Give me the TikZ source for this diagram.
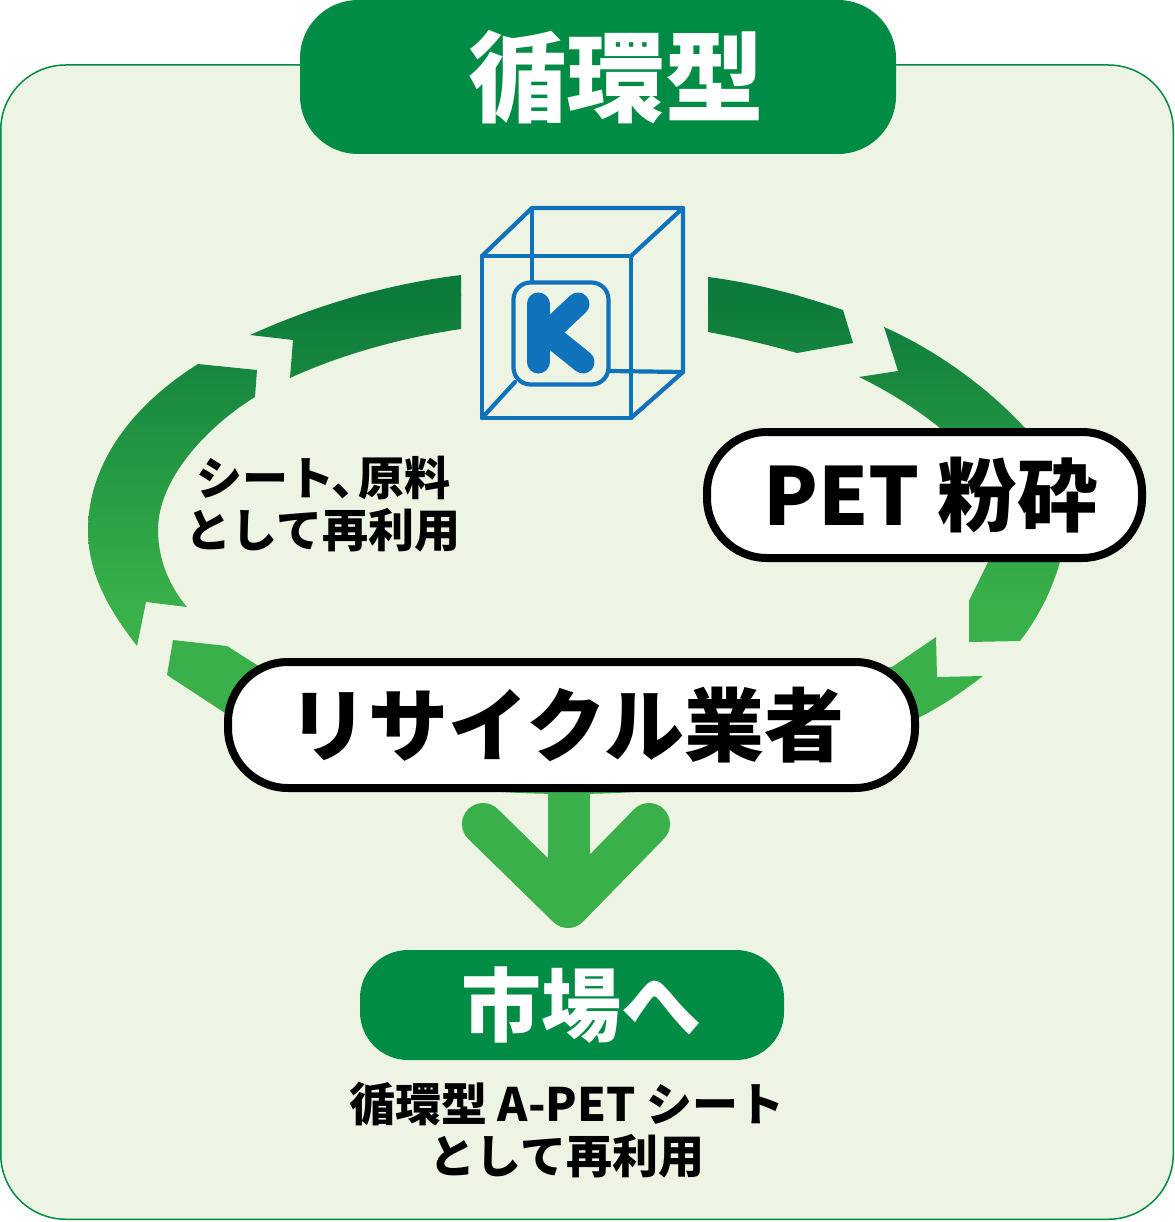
\documentclass[tikz,border=0pt]{standalone}
\usepackage{fontspec}
\setmainfont{Noto Sans CJK JP}
\definecolor{panelfill}{HTML}{EDF4E3}
\definecolor{brandgreen}{HTML}{008C45}
\definecolor{ringdark}{HTML}{0C7A3B}
\definecolor{ringlight}{HTML}{39B04A}
\definecolor{cubeblue}{HTML}{0F72BB}
\tikzset{
  pill/.style={draw=black,line width=8pt,fill=white,rounded corners=60pt,inner sep=0pt,
    minimum height=126pt,font=\bfseries\fontsize{80}{90}\selectfont},
  greenpill/.style={fill=brandgreen,text=white,inner sep=0pt,font=\bfseries\fontsize{80}{90}\selectfont},
  caption/.style={inner sep=0pt,align=center,font=\bfseries\fontsize{46}{52}\selectfont},
  cubeline/.style={draw=cubeblue,line width=4.2pt,line join=round,line cap=round},
}
\newcommand{\ringpaths}{%
  (461,275) .. controls (380,285) and (310,308) .. (250,335) -- (293,340) -- (290,378)
    .. controls (340,355) and (400,338) .. (461,329) -- cycle
  (198,364) -- (257,370) -- (255,397) .. controls (205,428) and (158,480) .. (158,530)
    .. controls (158,560) and (170,587) .. (187,607) -- (146,602) -- (137,646)
    .. controls (105,605) and (88,570) .. (88,530) .. controls (88,470) and (125,410) .. (198,364) -- cycle
  (173,640) -- (227,646) -- (257,665) -- (570,700) -- (570,794)
    .. controls (450,794) and (340,778) .. (225,713) -- (167,675) -- cycle
  (708,277) .. controls (755,283) and (800,295) .. (843,310) -- (853,343) -- (797,353)
    .. controls (765,344) and (735,337) .. (708,332) -- cycle
  (884,327) .. controls (940,352) and (990,390) .. (1025,428) -- (1030,470) -- (950,470) -- (940,428)
    .. controls (915,408) and (888,391) .. (859,377) -- (898,371) -- cycle
  (1000,520) -- (1060,520) -- (1060,562) .. controls (1052,590) and (1038,618) .. (1020,641) -- (969,642) -- (969,601)
    .. controls (975,588) and (982,575) .. (988,562) -- cycle
  (936,637) -- (937,677) -- (983,676) .. controls (962,692) and (942,706) .. (920,717)
    .. controls (800,775) and (690,794) .. (570,794) -- (570,700) -- (892,667) -- cycle
}
\begin{document}
\begin{tikzpicture}[x=1pt,y=-1pt]
\useasboundingbox (0,0) rectangle (1174,1222);
% panel
\draw[fill=panelfill,draw=brandgreen,line width=1.5pt,rounded corners=65pt] (0.75,65) rectangle (1173.25,1219.25);
% ring with a vertical gradient
\begin{scope}
  \clip \ringpaths;
  \fill[ringlight] (60,600) rectangle (1100,800);
  \shade[top color=ringdark,bottom color=ringlight,shading angle=0] (60,295) rectangle (1100,601);
  \fill[ringdark] (60,260) rectangle (1100,296);
\end{scope}
% cube logo
\coordinate (fa) at (482,256); \coordinate (fb) at (631,256);
\coordinate (fc) at (631,418); \coordinate (fd) at (482,418);
\coordinate (ba) at (532,208); \coordinate (bb) at (683,208);
\coordinate (bc) at (683,372);
\draw[cubeline] (fa) -- (fb) -- (fc) -- (fd) -- cycle;
\draw[cubeline] (fa) -- (ba) -- (bb) -- (fb);
\draw[cubeline] (bb) -- (bc) -- (fc);
\draw[cubeline] (ba) -- (532,282);
\draw[cubeline] (bc) -- (609,371);
\draw[cubeline] (fd) -- (515,382);
\draw[cubeline,fill=panelfill,rounded corners=17pt] (513.5,282.5) rectangle (608.5,384.5);
\draw[draw=cubeblue,line width=23pt,line cap=round,line join=round] (538,304) -- (538,362);
\draw[draw=cubeblue,line width=23pt,line cap=round,line join=round] (578,304) -- (547,333) -- (583,362);
% arrow to the market
\coordinate (tipl) at (483,824); \coordinate (tipr) at (649,824); \coordinate (tipb) at (568,907);
\fill[ringlight] (548,785) rectangle (590,900);
\draw[ringlight,line width=42pt,line cap=round,line join=round] (tipl) -- (tipb) -- (tipr);
% boxes
\node[pill,minimum width=435pt] (pet) at (924.5,495) {\hspace*{12pt}PET 粉砕};
\node[pill,minimum width=687pt] (rec) at (571.5,725) {\hspace*{-10pt}リサイクル業者};
\node[greenpill,minimum width=596pt,minimum height=154pt,rounded corners=58pt] (title) at (598,77)
  {\raisebox{2pt}{\hspace*{36pt}\fontsize{98.5}{100}\selectfont 循環型}};
\node[greenpill,minimum width=424pt,minimum height=110pt,rounded corners=48pt] (market) at (572,1005)
  {\raisebox{3pt}{\hspace*{18pt}市場へ}};
% labels
\node[caption] (reuse) at (323,504) {シート\hspace*{-3pt}、\hspace*{-19pt}原料\\として再利用};
\node[caption] (sheet) at (567,1130) {循環型 A-PET シート\\として再利用};
\end{tikzpicture}
\end{document}
